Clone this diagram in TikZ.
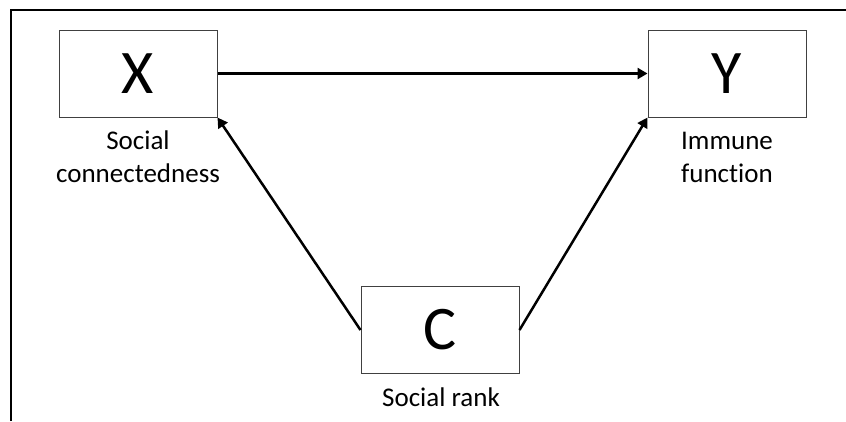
\documentclass[tikz,border=0pt]{standalone}
\usepackage{fontspec}
\setmainfont{Carlito}[RawFeature={-liga}]
\usetikzlibrary{arrows.meta}

\begin{document}
\begin{tikzpicture}[x=1pt, y=-1pt,
		var/.style={draw=black!75, line width=1pt, fill=white, minimum width=158pt, minimum height=87pt, inner sep=0pt, font=\fontsize{62}{62}\selectfont},
		lbl/.style={align=center, inner sep=0pt, font=\fontsize{27}{33}\selectfont},
		path/.style={line width=2.5pt, -{Triangle[length=10pt, width=11pt]}}]
		\useasboundingbox (0,0) rectangle (846,421);
		% frame
		\draw[line width=2pt] (11,421) -- (11,10) -- (846,10);

		\node[var] (X) at (138,73.5) {X};
		\node[var] (Y) at (727,73.5) {Y};
		\node[var] (C) at (440,330) {C};

		\node[lbl] (Xlab) at (138,157) {Social\\connectedness};
		\node[lbl] (Ylab) at (727,157) {Immune\\function};
		\node[lbl] (Clab) at (441,397) {Social rank};

		\draw[path] (X.east) -- (Y.west);
		\draw[path] (C.west) -- (X.south east);
		\draw[path] (C.east) -- (Y.south west);

	\end{tikzpicture}
\end{document}
